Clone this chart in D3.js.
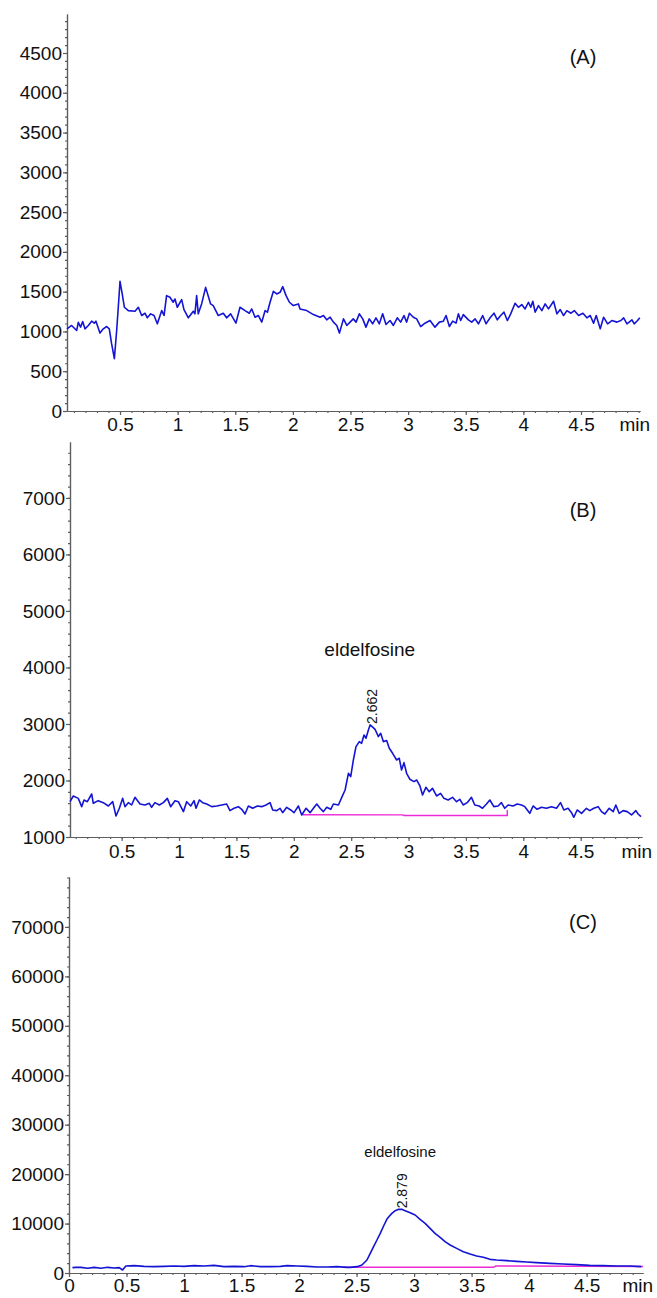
<!DOCTYPE html>
<html>
<head>
<meta charset="utf-8">
<script src="https://cdn.jsdelivr.net/npm/d3@7"></script>
<style>
  body { margin: 0; background: #fff; }
  svg { display: block; }
  text { font-family: "Liberation Sans", Arial, Helvetica, sans-serif; fill: #111; }
  .axis path, .axis line { stroke: #5e5e5e; stroke-width: 1.2; }
</style>
</head>
<body>
<script>
// ---- data (time in min, signal in counts) ----
var traceA = [
  [0.04,1033],[0.08,1075],[0.124,1012],[0.138,1115],[0.158,1054],[0.176,1125],[0.196,1033],
  [0.225,1075],[0.254,1129],[0.277,1104],[0.291,1129],[0.326,979],[0.355,1033],[0.384,1062],
  [0.407,1033],[0.427,846],[0.451,658],[0.471,1012],[0.485,1304],[0.5,1629],[0.517,1492],
  [0.538,1304],[0.572,1262],[0.63,1254],[0.659,1304],[0.688,1200],[0.717,1229],[0.737,1171],
  [0.766,1221],[0.795,1200],[0.824,1096],[0.862,1262],[0.882,1200],[0.904,1450],[0.933,1429],
  [0.962,1367],[0.977,1408],[0.997,1304],[1.035,1400],[1.055,1275],[1.093,1171],[1.136,1254],
  [1.15,1221],[1.165,1450],[1.179,1221],[1.208,1346],[1.243,1554],[1.286,1346],[1.309,1325],
  [1.353,1200],[1.396,1229],[1.425,1171],[1.46,1221],[1.506,1104],[1.541,1304],[1.585,1262],
  [1.622,1229],[1.643,1283],[1.672,1179],[1.701,1200],[1.73,1117],[1.759,1262],[1.779,1242],
  [1.802,1367],[1.831,1504],[1.86,1471],[1.889,1492],[1.912,1563],[1.941,1450],[1.97,1367],
  [2.004,1325],[2.048,1346],[2.062,1283],[2.12,1262],[2.178,1212],[2.236,1179],[2.265,1200],
  [2.294,1146],[2.323,1179],[2.352,1117],[2.381,1075],[2.404,979],[2.439,1158],[2.468,1075],
  [2.496,1117],[2.524,1158],[2.548,1117],[2.577,1221],[2.606,1158],[2.634,1054],[2.663,1158],
  [2.692,1096],[2.721,1171],[2.75,1096],[2.779,1221],[2.808,1087],[2.843,1137],[2.872,1075],
  [2.906,1171],[2.935,1117],[2.964,1200],[2.987,1117],[3.011,1229],[3.045,1179],[3.074,1158],
  [3.109,1062],[3.146,1104],[3.19,1137],[3.233,1054],[3.271,1117],[3.306,1129],[3.329,1200],
  [3.358,1062],[3.387,1129],[3.416,1104],[3.436,1221],[3.456,1137],[3.479,1212],[3.523,1146],
  [3.552,1117],[3.581,1158],[3.61,1096],[3.647,1200],[3.676,1096],[3.711,1171],[3.745,1229],
  [3.774,1146],[3.803,1200],[3.832,1242],[3.861,1137],[3.89,1221],[3.928,1354],[3.957,1304],
  [3.986,1338],[4.015,1283],[4.044,1367],[4.064,1304],[4.082,1379],[4.102,1242],[4.131,1325],
  [4.16,1262],[4.189,1346],[4.218,1283],[4.262,1379],[4.291,1221],[4.32,1275],[4.349,1200],
  [4.378,1262],[4.413,1229],[4.442,1262],[4.479,1200],[4.517,1229],[4.551,1171],[4.58,1200],
  [4.609,1104],[4.632,1200],[4.667,1033],[4.696,1179],[4.731,1096],[4.768,1137],[4.812,1117],
  [4.846,1137],[4.87,1171],[4.899,1096],[4.942,1146],[4.962,1096],[4.991,1137],[5.01,1171]
];

var traceB = [
  [0.05,1625],[0.079,1726],[0.122,1684],[0.152,1537],[0.172,1655],[0.201,1625],[0.239,1761],
  [0.253,1596],[0.296,1643],[0.34,1608],[0.384,1549],[0.422,1625],[0.451,1372],[0.48,1508],
  [0.509,1684],[0.529,1537],[0.558,1608],[0.587,1567],[0.616,1702],[0.66,1584],[0.703,1567],
  [0.741,1596],[0.761,1525],[0.79,1608],[0.828,1567],[0.863,1608],[0.898,1684],[0.927,1537],
  [0.965,1643],[0.994,1625],[1.038,1449],[1.067,1625],[1.102,1549],[1.131,1643],[1.148,1508],
  [1.177,1655],[1.206,1608],[1.241,1584],[1.285,1537],[1.328,1549],[1.372,1567],[1.415,1584],
  [1.444,1467],[1.479,1508],[1.517,1537],[1.546,1490],[1.575,1407],[1.604,1549],[1.642,1508],
  [1.683,1549],[1.72,1537],[1.758,1567],[1.793,1608],[1.816,1478],[1.851,1467],[1.88,1508],
  [1.903,1431],[1.938,1525],[1.973,1478],[2.002,1431],[2.04,1549],[2.069,1390],[2.107,1508],
  [2.142,1431],[2.171,1508],[2.2,1584],[2.229,1508],[2.258,1449],[2.287,1525],[2.322,1490],
  [2.345,1584],[2.389,1567],[2.418,1702],[2.447,1832],[2.476,2127],[2.496,2068],[2.519,2363],
  [2.542,2599],[2.571,2688],[2.591,2658],[2.612,2806],[2.629,2747],[2.65,2894],[2.665,2983],
  [2.69,2940],[2.708,2906],[2.737,2776],[2.757,2835],[2.78,2688],[2.809,2706],[2.832,2570],
  [2.861,2481],[2.896,2363],[2.919,2393],[2.939,2186],[2.96,2316],[2.983,2127],[3.012,2021],
  [3.047,1980],[3.07,2009],[3.099,1903],[3.122,1743],[3.151,1879],[3.18,1802],[3.209,1861],
  [3.244,1726],[3.279,1773],[3.308,1684],[3.345,1655],[3.383,1702],[3.418,1625],[3.447,1667],
  [3.476,1567],[3.511,1608],[3.548,1702],[3.577,1567],[3.615,1549],[3.644,1508],[3.679,1584],
  [3.708,1655],[3.743,1537],[3.78,1549],[3.809,1608],[3.838,1508],[3.868,1567],[3.911,1549],
  [3.946,1584],[3.984,1567],[4.013,1537],[4.056,1419],[4.085,1549],[4.12,1490],[4.158,1525],
  [4.201,1508],[4.245,1537],[4.289,1508],[4.324,1608],[4.353,1478],[4.39,1508],[4.42,1431],
  [4.44,1349],[4.469,1478],[4.507,1419],[4.55,1508],[4.579,1467],[4.614,1508],[4.652,1537],
  [4.681,1449],[4.71,1407],[4.748,1508],[4.783,1449],[4.806,1567],[4.835,1419],[4.87,1467],
  [4.905,1449],[4.943,1390],[4.98,1467],[5.0,1407],[5.025,1360]
];

var traceC = [
  [0.03,1079],[0.06,1146],[0.104,1146],[0.162,944],[0.22,1146],[0.278,944],[0.335,1146],
  [0.393,1011],[0.437,1079],[0.466,607],[0.494,1415],[0.567,1483],[0.653,1348],[0.74,1281],
  [0.827,1348],[0.914,1415],[1.0,1348],[1.087,1483],[1.174,1415],[1.261,1550],[1.347,1281],
  [1.434,1348],[1.521,1281],[1.578,1483],[1.665,1281],[1.752,1281],[1.838,1348],[1.896,1483],
  [1.983,1415],[2.07,1348],[2.157,1213],[2.243,1213],[2.33,1281],[2.417,1146],[2.446,1146],
  [2.504,1281],[2.547,1618],[2.59,2629],[2.619,3977],[2.648,5325],[2.677,6673],[2.706,8021],
  [2.735,9504],[2.763,10852],[2.786,11526],[2.807,12066],[2.836,12605],[2.865,12874],
  [2.893,12874],[2.922,12605],[2.966,12201],[3.009,11729],[3.052,10852],[3.096,10044],
  [3.139,9033],[3.182,8021],[3.226,7212],[3.269,6336],[3.313,5662],[3.37,4988],[3.428,4314],
  [3.486,3842],[3.544,3438],[3.602,3168],[3.659,2764],[3.717,2629],[3.804,2494],[3.891,2359],
  [3.977,2224],[4.064,2089],[4.18,1955],[4.295,1820],[4.411,1685],[4.527,1550],[4.642,1483],
  [4.758,1415],[4.874,1415],[4.975,1281]
];

// integration baselines
var baseB = [[2.078,1395],[2.95,1392],[2.96,1380],[3.86,1380],[3.86,1480]];
var baseC = [[2.385,1150],[3.69,1150],[3.71,1420],[4.99,1330]];

// tick labels
var xTicksAB = [0.5, 1, 1.5, 2, 2.5, 3, 3.5, 4, 4.5];
var xTicksC = [0, 0.5, 1, 1.5, 2, 2.5, 3, 3.5, 4, 4.5];
var yTicksA = [0, 500, 1000, 1500, 2000, 2500, 3000, 3500, 4000, 4500];
var yTicksB = [1000, 2000, 3000, 4000, 5000, 6000, 7000];
var yTicksC = [0, 10000, 20000, 30000, 40000, 50000, 60000, 70000];

// peak annotations
var peaksB = [{name: "eldelfosine", rt: 2.662, top: 2983}];
var peaksC = [{name: "eldelfosine", rt: 2.879, top: 12874}];

var W = 657, H = 1298;
var svg = d3.select("body").append("svg").attr("width", W).attr("height", H);

var panels = [
  { tag: "(A)", trace: traceA, base: null, peaks: [], xTicks: xTicksAB, yTicks: yTicksA,
    xDom: [0.04, 5.012], xRange: [67, 640], yDom: [0, 4990], yRange: [411, 14], minor: 100,
    labPad: 3, tagY: 64, nameSize: 19, nameGap: 32 },
  { tag: "(B)", trace: traceB, base: baseB, peaks: peaksB, xTicks: xTicksAB, yTicks: yTicksB,
    xDom: [0.05, 5.034], xRange: [70, 642], yDom: [1000, 7990], yRange: [837, 442], minor: 200,
    labPad: 4, tagY: 517, nameSize: 19, nameGap: 32 },
  { tag: "(C)", trace: traceC, base: baseC, peaks: peaksC, xTicks: xTicksC, yTicks: yTicksC,
    xDom: [0, 4.99], xRange: [69, 643], yDom: [0, 80100], yRange: [1273, 877], minor: 2000,
    labPad: 2, tagY: 929, nameSize: 15, nameGap: 15 }
];

panels.forEach(function(p) {
  var x = d3.scaleLinear().domain(p.xDom).range(p.xRange);
  var y = d3.scaleLinear().domain(p.yDom).range(p.yRange);
  var g = svg.append("g");

  // minor y ticks
  g.append("g").attr("class", "axis")
    .attr("transform", "translate(" + p.xRange[0] + ",0)")
    .call(d3.axisLeft(y).tickValues(d3.range(p.yDom[0], p.yDom[1], p.minor))
      .tickSize(2).tickSizeOuter(0).tickFormat(""));
  // major y ticks
  var ya = g.append("g").attr("class", "axis")
    .attr("transform", "translate(" + p.xRange[0] + ",0)")
    .call(d3.axisLeft(y).tickValues(p.yTicks).tickSize(4).tickPadding(1)
      .tickSizeOuter(0).tickFormat(d3.format("d")));
  ya.selectAll("text").style("font-size", "19px").attr("fill", "#111");

  // minor x ticks
  g.append("g").attr("class", "axis")
    .attr("transform", "translate(0," + p.yRange[0] + ")")
    .call(d3.axisBottom(x).tickValues(d3.range(Math.ceil(p.xDom[0] * 10) / 10, p.xDom[1], 0.1))
      .tickSize(2).tickSizeOuter(0).tickFormat(""));
  var xa = g.append("g").attr("class", "axis")
    .attr("transform", "translate(0," + p.yRange[0] + ")")
    .call(d3.axisBottom(x).tickValues(p.xTicks).tickSize(4).tickPadding(p.labPad)
      .tickSizeOuter(0).tickFormat(function(d) { return String(d); }));
  xa.selectAll("text").style("font-size", "19px").attr("fill", "#111");
  xa.append("text")
    .attr("x", p.xRange[1] + 10).attr("y", 4 + p.labPad).attr("dy", "0.71em")
    .attr("text-anchor", "end").style("font-size", "19px").attr("fill", "#111")
    .text("min");

  var line = d3.line().x(function(d) { return x(d[0]); }).y(function(d) { return y(d[1]); });

  if (p.base) {
    g.append("path").datum(p.base).attr("d", line)
      .attr("fill", "none").attr("stroke", "#ee2ad6").attr("stroke-width", 1.4);
  }

  g.append("path").datum(p.trace).attr("d", line)
    .attr("fill", "none").attr("stroke", "#1414d4").attr("stroke-width", 1.6)
    .attr("stroke-linejoin", "round");

  p.peaks.forEach(function(pk) {
    var px = x(pk.rt), py = y(pk.top) - 1;
    var label = pk.rt.toFixed(3);
    g.append("text")
      .attr("transform", "translate(" + (px + 2) + "," + py + ") rotate(-90)")
      .attr("dy", "0.35em").style("font-size", "14px").text(label);
    var lw = label.length * 14 * 0.52;
    g.append("text")
      .attr("x", px).attr("y", py - lw - p.nameGap)
      .attr("text-anchor", "middle").style("font-size", p.nameSize + "px").text(pk.name);
  });

  g.append("text").attr("x", 583).attr("y", p.tagY).attr("text-anchor", "middle")
    .style("font-size", "20px").text(p.tag);
});
</script>
</body>
</html>
